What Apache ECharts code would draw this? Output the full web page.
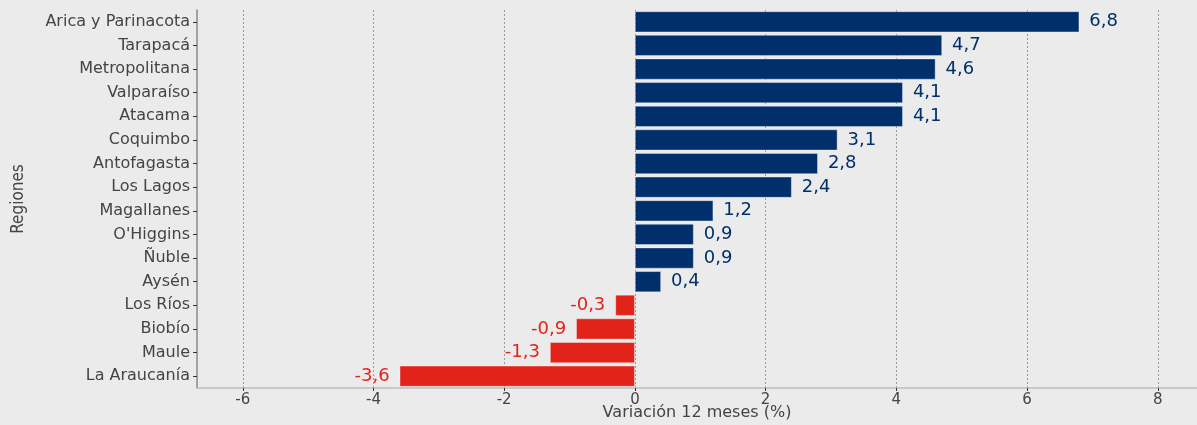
<!DOCTYPE html>
<html>
<head>
<meta charset="utf-8">
<script src="https://cdn.jsdelivr.net/npm/echarts@6/dist/echarts.min.js"></script>
<style>
  html, body { margin: 0; padding: 0; background: #ebebeb; }
  #chart { width: 1197px; height: 425px; }
</style>
</head>
<body>
<div id="chart"></div>
<script>
// datos: variación 12 meses por región (orden de arriba hacia abajo)
const regiones = ['Arica y Parinacota', 'Tarapacá', 'Metropolitana', 'Valparaíso', 'Atacama',
  'Coquimbo', 'Antofagasta', 'Los Lagos', 'Magallanes', "O'Higgins", 'Ñuble', 'Aysén',
  'Los Ríos', 'Biobío', 'Maule', 'La Araucanía'];
const variacion = [6.8, 4.7, 4.6, 4.1, 4.1, 3.1, 2.8, 2.4, 1.2, 0.9, 0.9, 0.4, -0.3, -0.9, -1.3, -3.6];
const ticksX = [-6, -4, -2, 0, 2, 4, 6, 8];

const AZUL = '#002f6c';
const ROJO = '#e2231a';
const GRIS = '#444444';

const chart = echarts.init(document.getElementById('chart'));

const datos = variacion.map(v => ({
  value: v,
  itemStyle: { color: v >= 0 ? AZUL : ROJO },
  label: {
    position: v >= 0 ? 'right' : 'left',
    color: v >= 0 ? AZUL : ROJO
  }
}));

const option = {
  backgroundColor: '#ebebeb',
  animation: false,
  grid: { left: 197, right: 0, top: 10, bottom: 37, outerBoundsMode: 'none' },
  xAxis: {
    type: 'value',
    min: -6.7,
    max: 8.6,
    name: 'Variación 12 meses (%)',
    nameLocation: 'middle',
    nameGap: 17,
    nameMoveOverlap: false,
    nameTextStyle: { color: GRIS, fontSize: 16, fontFamily: 'DejaVu Sans', verticalAlign: 'top' },
    axisLine: { show: true, onZero: false, lineStyle: { color: '#bdbdbd', width: 1.5 } },
    axisTick: { show: true, length: 3, customValues: ticksX, lineStyle: { color: '#333' } },
    axisLabel: { customValues: ticksX, color: GRIS, fontSize: 15, fontFamily: 'DejaVu Sans', margin: 5 },
    splitLine: { show: true, lineStyle: { color: '#9a9a9a', type: [2, 2], width: 1 } }
  },
  yAxis: {
    type: 'category',
    data: regiones,
    inverse: true,
    name: 'Regiones',
    nameLocation: 'middle',
    nameGap: 170,
    nameMoveOverlap: false,
    nameTextStyle: { color: GRIS, fontSize: 17, fontFamily: 'DejaVu Sans Condensed, Liberation Sans' },
    axisLine: { show: true, onZero: false, lineStyle: { color: '#8a8a8a', width: 1.5 } },
    axisTick: { show: true, alignWithLabel: true, length: 4, lineStyle: { color: '#333' } },
    axisLabel: { color: GRIS, fontSize: 16, fontFamily: 'DejaVu Sans', margin: 7 },
    splitLine: { show: false }
  },
  series: [{
    type: 'bar',
    data: datos,
    barWidth: '89%',
    itemStyle: { borderColor: 'rgba(255,255,255,0.45)', borderWidth: 0.8 },
    label: {
      show: true,
      distance: 10,
      fontSize: 18,
      fontFamily: 'DejaVu Sans',
      formatter: p => String(p.value).replace('.', ',')
    }
  }]
};

chart.setOption(option);
</script>
</body>
</html>
